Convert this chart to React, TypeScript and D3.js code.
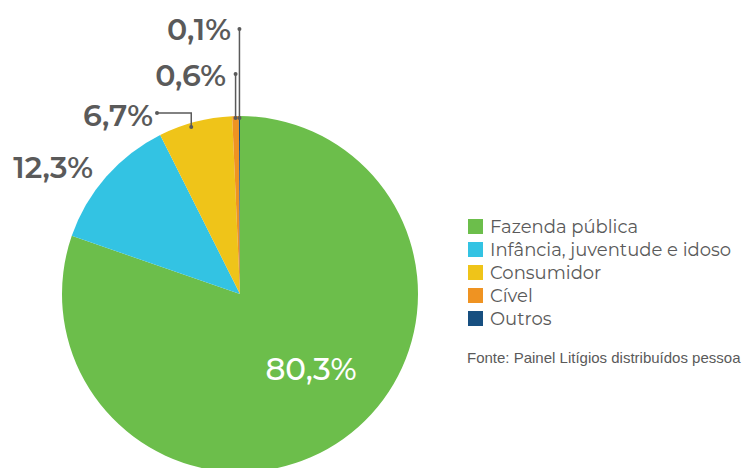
import React from "react";
import * as d3 from "d3";

const categories = ["Fazenda pública", "Infância, juventude e idoso", "Consumidor", "Cível", "Outros"];
const values = [80.3, 12.3, 6.7, 0.6, 0.1];
const labels = ["80,3%", "12,3%", "6,7%", "0,6%", "0,1%"];
const colors = ["#6cbe4b", "#33c3e3", "#efc419", "#ef9322", "#174f80"];
const source = "Fonte: Painel Litígios distribuídos pessoa";

const W = 746, H = 468;
const cx = 240, cy = 294, R = 178;
const FONT = "Montserrat, Lato, 'Open Sans', sans-serif";
const GRAY = "#5a5a5a";

export default function App() {
  const pie = d3.pie<number>().sort(null).startAngle(0).endAngle(2 * Math.PI);
  const arcs = pie(values);
  const arc = d3.arc<d3.PieArcDatum<number>>().innerRadius(0).outerRadius(R);
  const pt = (a: number, r: number) => [cx + r * Math.sin(a), cy - r * Math.cos(a)];

  const a4 = (arcs[4].startAngle + arcs[4].endAngle) / 2;
  const a3 = (arcs[3].startAngle + arcs[3].endAngle) / 2;
  const a2 = arcs[2].startAngle + (arcs[2].endAngle - arcs[2].startAngle) * 0.43;
  const p4 = pt(a4, R - 2);
  const p3 = pt(a3, R - 2);
  const p2 = pt(a2, R - 4);

  return (
    <svg width={W} height={H} style={{ position: "absolute", left: 0, top: 0 }}>
      <g>
        {arcs.map((d, i) => (
          <path key={i} d={arc(d) || ""} transform={`translate(${cx},${cy})`} fill={colors[i]} />
        ))}
      </g>
      <text x={311} y={380} textAnchor="middle" fill="#fff" fontFamily={FONT} fontSize={31} fontWeight={500}>{labels[0]}</text>
      <text x={93} y={178} textAnchor="end" fill={GRAY} fontFamily={FONT} fontSize={30} fontWeight={600}>{labels[1]}</text>
      <text x={153} y={126} textAnchor="end" fill={GRAY} fontFamily={FONT} fontSize={30} fontWeight={600}>{labels[2]}</text>
      <polyline points={`157,113 ${p2[0]},113 ${p2[0]},${p2[1]}`} fill="none" stroke={GRAY} strokeWidth={1.5} />
      <circle cx={157} cy={113} r={2} fill={GRAY} />
      <circle cx={p2[0]} cy={p2[1]} r={2} fill={GRAY} />
      <text x={226} y={86} textAnchor="end" fill={GRAY} fontFamily={FONT} fontSize={30} fontWeight={600}>{labels[3]}</text>
      <line x1={p3[0]} y1={74} x2={p3[0]} y2={p3[1]} stroke={GRAY} strokeWidth={1.5} />
      <circle cx={p3[0]} cy={74} r={2} fill={GRAY} />
      <circle cx={p3[0]} cy={p3[1]} r={2} fill={GRAY} />
      <text x={231} y={40} textAnchor="end" fill={GRAY} fontFamily={FONT} fontSize={30} fontWeight={600}>{labels[4]}</text>
      <line x1={p4[0]} y1={29} x2={p4[0]} y2={p4[1]} stroke={GRAY} strokeWidth={1.5} />
      <circle cx={p4[0]} cy={29} r={2} fill={GRAY} />
      <circle cx={p4[0]} cy={p4[1]} r={2} fill={GRAY} />
      <g>
        {categories.map((c, i) => (
          <g key={i} transform={`translate(468,${219 + i * 23})`}>
            <rect x={0} y={0} width={15} height={15} fill={colors[i]} />
            <text x={22} y={14} fill={GRAY} fontFamily={FONT} fontSize={18}>{c}</text>
          </g>
        ))}
      </g>
      <text x={467} y={363} fill={GRAY} fontFamily="'Liberation Sans', Arial, sans-serif" fontSize={15}>{source}</text>
    </svg>
  );
}
